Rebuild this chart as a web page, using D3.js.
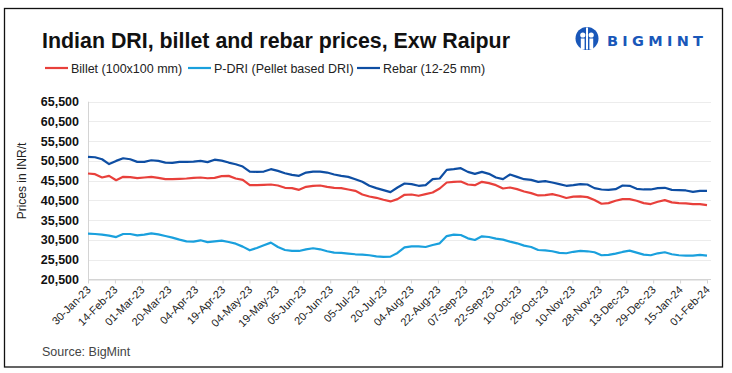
<!DOCTYPE html>
<html>
<head>
<meta charset="utf-8">
<script src="https://cdn.jsdelivr.net/npm/d3@7"></script>
<style>
  body { margin: 0; background: #fff; }
  svg { display: block; font-family: "Liberation Sans Narrow", "Arial Narrow", "Liberation Sans", Arial, sans-serif; }
</style>
</head>
<body>
<svg id="chart" width="732" height="373"></svg>
<script>
var tickLabels = ['30-Jan-23', '14-Feb-23', '01-Mar-23', '20-Mar-23', '04-Apr-23', '19-Apr-23', '04-May-23',
  '19-May-23', '05-Jun-23', '20-Jun-23', '05-Jul-23', '20-Jul-23', '04-Aug-23', '22-Aug-23', '07-Sep-23',
  '22-Sep-23', '10-Oct-23', '26-Oct-23', '10-Nov-23', '28-Nov-23', '13-Dec-23', '29-Dec-23', '15-Jan-24', '01-Feb-24'];

// evenly spaced readings from 30-Jan-23 to 01-Feb-24
var billet = [47300, 47130, 46290, 46700, 45600, 46460, 46370, 46120, 46290, 46460, 46200, 45870, 45870,
  45950, 46040, 46200, 46290, 46100, 46200, 46630, 46710, 46040, 45700, 44350, 44350, 44440, 44520, 44270,
  43680, 43600, 43170, 43930, 44180, 44270, 43930, 43680, 43600, 43260, 42920, 41990, 41490, 41150, 40650,
  40230, 40820, 41910, 41990, 41660, 42080, 42500, 43510, 45030, 45200, 45280, 44520, 44350, 45200, 44860,
  44350, 43510, 43760, 43340, 42750, 42330, 41740, 41830, 42080, 41660, 41100, 41450, 41490, 41320, 40570,
  39640, 39810, 40400, 40820, 40820, 40400, 39810, 39560, 40140, 40570, 39980, 39810, 39720, 39560, 39560, 39300];

var pdri = [32060, 31980, 31810, 31560, 31200, 31980, 31980, 31640, 31810, 32140, 31890, 31470, 31050,
  30550, 30120, 30040, 30380, 29920, 30100, 30290, 29960, 29530, 28780, 27850, 28440, 29110, 29790, 28690,
  27930, 27680, 27680, 28100, 28360, 28100, 27600, 27260, 27180, 27010, 26840, 26760, 26590, 26330, 26170,
  26250, 27180, 28610, 28860, 28860, 28690, 29200, 29620, 31450, 31800, 31720, 30880, 30460, 31390, 31220,
  30800, 30550, 30040, 29620, 29030, 28690, 27930, 27850, 27600, 27180, 27100, 27470, 27680, 27600, 27350,
  26590, 26670, 27010, 27430, 27770, 27260, 26760, 26590, 27090, 27350, 26840, 26590, 26500, 26500, 26670, 26500];

var rebar = [51510, 51430, 50920, 49700, 50500, 51170, 50920, 50250, 50250, 50670, 50500, 50080, 50000,
  50250, 50250, 50330, 50500, 50200, 50800, 50580, 50080, 49660, 49070, 47800, 47720, 47800, 48400, 47970,
  47380, 46960, 46710, 47550, 47800, 47800, 47550, 47050, 46710, 46460, 45870, 45200, 44190, 43600, 43090,
  42590, 43760, 44770, 44610, 44190, 44350, 45870, 46040, 48230, 48400, 48650, 47720, 47220, 47720, 47220,
  46290, 45870, 47050, 46460, 45870, 45700, 45200, 45360, 45030, 44610, 44190, 44350, 44610, 44520, 43600,
  43260, 43170, 43340, 44270, 44190, 43430, 43260, 43260, 43600, 43680, 43170, 43090, 43010, 42670, 42920, 42920];

var yTicks = [20500, 25500, 30500, 35500, 40500, 45500, 50500, 55500, 60500, 65500];

var seriesNames = ['Billet (100x100 mm)', 'P-DRI (Pellet based DRI)', 'Rebar (12-25 mm)'];
var seriesColors = ['#e8403b', '#1aa0dd', '#0e4ea3'];
var seriesData = [billet, pdri, rebar];

var svg = d3.select('#chart');

var plot = { left: 88, right: 707, top: 101.7, bottom: 279.3 };

var x = d3.scaleLinear()
  .domain([0, billet.length - 1])
  .range([plot.left, plot.right]);

var y = d3.scaleLinear()
  .domain([yTicks[0], yTicks[yTicks.length - 1]])
  .range([plot.bottom, plot.top]);

// frame
svg.append('rect')
  .attr('x', 4.5).attr('y', 8.5)
  .attr('width', 718).attr('height', 358.5)
  .attr('fill', 'none')
  .attr('stroke', '#111')
  .attr('stroke-width', 1.3);

svg.append('text')
  .attr('x', 42).attr('y', 48)
  .attr('font-size', 22)
  .attr('font-weight', 'bold')
  .attr('fill', '#111')
  .attr('textLength', 468)
  .attr('lengthAdjust', 'spacingAndGlyphs')
  .text('Indian DRI, billet and rebar prices, Exw Raipur');

// logo
var logo = svg.append('g').attr('transform', 'translate(587,38.5)');
logo.append('circle').attr('r', 11.5).attr('fill', '#1957b9');
logo.append('circle').attr('cx', -4.2).attr('cy', -3.5).attr('r', 2.6).attr('fill', '#fff');
logo.append('circle').attr('cx', 4.2).attr('cy', -3.5).attr('r', 2.6).attr('fill', '#fff');
logo.append('rect').attr('x', -6.2).attr('y', 0).attr('width', 3.8).attr('height', 11).attr('fill', '#fff');
logo.append('rect').attr('x', 2.4).attr('y', 0).attr('width', 3.8).attr('height', 11).attr('fill', '#fff');
logo.append('rect').attr('x', -1).attr('y', -11).attr('width', 2).attr('height', 22).attr('fill', '#fff');

svg.append('text')
  .attr('x', 607).attr('y', 46)
  .attr('font-family', '"DejaVu Sans", sans-serif')
  .attr('font-size', 14.5)
  .attr('font-weight', 'bold')
  .attr('fill', '#1957b9')
  .attr('textLength', 96)
  .attr('lengthAdjust', 'spacing')
  .text('BIGMINT');

// legend
var legendX = [45, 188, 357];
var legend = svg.append('g')
  .selectAll('g')
  .data(seriesNames)
  .enter()
  .append('g')
  .attr('transform', function(d, i) { return 'translate(' + legendX[i] + ',68)'; });

legend.append('line')
  .attr('x1', 0).attr('x2', 23)
  .attr('stroke', function(d, i) { return seriesColors[i]; })
  .attr('stroke-width', 2.2);

legend.append('text')
  .attr('x', 26).attr('y', 4.5)
  .attr('font-size', 12.5)
  .attr('fill', '#222')
  .text(function(d) { return d; });

// grid + y axis
svg.append('g')
  .selectAll('line')
  .data(yTicks)
  .enter()
  .append('line')
  .attr('x1', plot.left).attr('x2', 711)
  .attr('y1', function(d) { return Math.round(y(d)) + 0.5; })
  .attr('y2', function(d) { return Math.round(y(d)) + 0.5; })
  .attr('stroke', function(d, i) { return i === 0 ? '#d4d4d4' : '#ececec'; })
  .attr('stroke-width', 1);

svg.append('line')
  .attr('x1', plot.left + 0.5).attr('x2', plot.left + 0.5)
  .attr('y1', plot.top).attr('y2', plot.bottom)
  .attr('stroke', '#d4d4d4');

var yAxis = svg.append('g')
  .attr('transform', 'translate(79,0)')
  .call(d3.axisLeft(y).tickValues(yTicks).tickSize(0).tickPadding(0).tickFormat(d3.format(',')));
yAxis.select('.domain').remove();
yAxis.selectAll('text')
  .attr('font-family', '"Liberation Sans", Arial, sans-serif')
  .attr('font-size', 12.5)
  .attr('font-weight', 'bold')
  .attr('fill', '#111');

svg.append('text')
  .attr('transform', 'translate(26,181) rotate(-90)')
  .attr('text-anchor', 'middle')
  .attr('font-size', 12)
  .attr('fill', '#222')
  .text('Prices in INR/t');

// x axis: labelled dates spread evenly over the readings
var step = (billet.length - 1) / (tickLabels.length - 1);
var tickIdx = tickLabels.map(function(d, i) { return i * step; });

var xAxis = svg.append('g')
  .attr('transform', 'translate(0,' + (Math.round(y(yTicks[0])) + 0.5) + ')')
  .call(d3.axisBottom(x).tickValues(tickIdx).tickSize(4).tickSizeOuter(0)
    .tickFormat(function(d, i) { return tickLabels[i]; }));
xAxis.select('.domain').attr('stroke', '#d4d4d4');
xAxis.selectAll('.tick line').attr('stroke', '#d4d4d4');
xAxis.selectAll('text')
  .attr('font-size', 11)
  .attr('fill', '#222')
  .attr('text-anchor', 'end')
  .attr('x', 0).attr('y', 0).attr('dy', 0)
  .attr('transform', 'translate(3,11) rotate(-45)');

// series
var line = d3.line()
  .x(function(d, i) { return x(i); })
  .y(function(d) { return y(d); });

svg.append('g')
  .selectAll('path')
  .data(seriesData)
  .enter()
  .append('path')
  .attr('d', line)
  .attr('fill', 'none')
  .attr('stroke', function(d, i) { return seriesColors[i]; })
  .attr('stroke-width', 2.2)
  .attr('stroke-linejoin', 'round');

svg.append('text')
  .attr('x', 42).attr('y', 356)
  .attr('font-size', 12.5)
  .attr('fill', '#444')
  .text('Source: BigMint');
</script>
</body>
</html>
